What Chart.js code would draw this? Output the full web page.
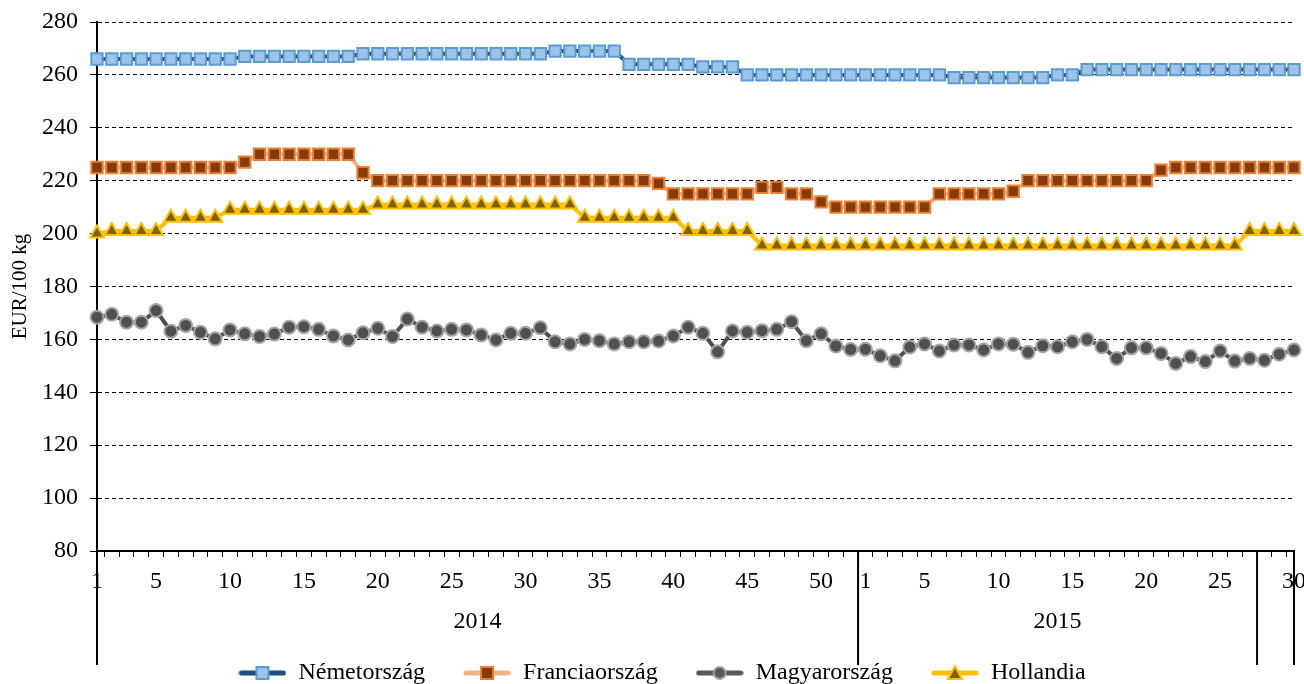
<!DOCTYPE html>
<html>
<head>
<meta charset="utf-8">
<script src="https://cdn.jsdelivr.net/npm/chart.js@4.4.0/dist/chart.umd.min.js"></script>
<style>
  html, body { margin: 0; padding: 0; background: #fff; }
  #wrap { width: 1304px; height: 684px; }
</style>
</head>
<body>
<div id="wrap"><canvas id="chart" width="1304" height="684"></canvas></div>
<script>
// weeks on the category axis
const weeks2014 = [1, 2, 3, 4, 5, 6, 7, 8, 9, 10, 11, 12, 13, 14, 15, 16, 17, 18, 19, 20,
  21, 22, 23, 24, 25, 26, 27, 28, 29, 30, 31, 32, 33, 34, 35, 36, 37, 38, 39, 40,
  41, 42, 43, 44, 45, 46, 47, 48, 49, 50, 51, 52];
const weeks2015 = [1, 2, 3, 4, 5, 6, 7, 8, 9, 10, 11, 12, 13, 14, 15, 16, 17, 18, 19, 20,
  21, 22, 23, 24, 25, 26, 27, 28, 29, 30];

// second level of the axis: group label and number of weeks in it
const yearLabels = ['2014', '2015', ''];
const yearSizes = [52, 27, 3];

const nemetorszag = [
  266, 266, 266, 266, 266, 266, 266, 266, 266, 266,
  267, 267, 267, 267, 267, 267, 267, 267,
  268, 268, 268, 268, 268, 268, 268, 268, 268, 268, 268, 268, 268,
  269, 269, 269, 269, 269,
  264, 264, 264, 264, 264,
  263, 263, 263,
  260, 260, 260, 260, 260, 260, 260, 260,
  260, 260, 260, 260, 260, 260,
  259, 259, 259, 259, 259, 259, 259,
  260, 260,
  262, 262, 262, 262, 262, 262, 262, 262, 262, 262, 262, 262, 262, 262, 262
];
const franciaorszag = [
  225, 225, 225, 225, 225, 225, 225, 225, 225, 225,
  227,
  230, 230, 230, 230, 230, 230, 230,
  223,
  220, 220, 220, 220, 220, 220, 220, 220, 220, 220, 220, 220, 220, 220, 220, 220, 220, 220, 220,
  219,
  215, 215, 215, 215, 215, 215,
  217.5, 217.5,
  215, 215,
  212,
  210, 210, 210, 210, 210, 210, 210,
  215, 215, 215, 215, 215,
  216,
  220, 220, 220, 220, 220, 220, 220, 220, 220,
  224,
  225, 225, 225, 225, 225, 225, 225, 225, 225
];
const magyarorszag = [
  168.4, 169.5, 166.5, 166.5, 170.9, 163.1, 165.3, 162.7, 160.2, 163.6,
  162.1, 161.1, 162.0, 164.6, 164.8, 163.8, 161.3, 159.8, 162.5, 164.2,
  161.1, 167.7, 164.6, 163.2, 163.8, 163.6, 161.7, 159.8, 162.3, 162.3,
  164.4, 159.1, 158.3, 160.0, 159.5, 158.3, 159.1, 159.1, 159.4, 161.3,
  164.6, 162.3, 155.3, 163.2, 162.7, 163.3, 163.8, 166.7, 159.5, 162.1,
  157.5, 156.2, 156.3, 153.8, 151.9, 157.1, 158.3, 155.6, 157.9, 157.9,
  156.0, 158.3, 158.2, 155.1, 157.6, 157.2, 159.1, 160.0, 157.2, 152.8,
  156.8, 156.8, 154.7, 150.9, 153.5, 151.6, 155.6, 151.8, 152.8, 152.1,
  154.4, 156.0
];
const hollandia = [
  200,
  201, 201, 201, 201,
  206, 206, 206, 206,
  209, 209, 209, 209, 209, 209, 209, 209, 209, 209,
  211, 211, 211, 211, 211, 211, 211, 211, 211, 211, 211, 211, 211, 211,
  206, 206, 206, 206, 206, 206, 206,
  201, 201, 201, 201, 201,
  195.5, 195.5, 195.5, 195.5, 195.5, 195.5, 195.5, 195.5, 195.5, 195.5, 195.5,
  195.5, 195.5, 195.5, 195.5, 195.5, 195.5, 195.5, 195.5, 195.5, 195.5, 195.5,
  195.5, 195.5, 195.5, 195.5, 195.5, 195.5, 195.5, 195.5, 195.5, 195.5, 195.5,
  201, 201, 201, 201
];

const FONT = '"Liberation Serif", "Times New Roman", serif';
Chart.defaults.font.family = FONT;
Chart.defaults.color = '#000';

// little line + marker pictures for the legend
function legendIcon(lineColor, fill, stroke, shape) {
  const c = document.createElement('canvas');
  c.width = 48; c.height = 18;
  const g = c.getContext('2d');
  g.strokeStyle = lineColor; g.lineWidth = 5; g.lineCap = 'round';
  g.beginPath(); g.moveTo(3, 9); g.lineTo(45, 9); g.stroke();
  g.fillStyle = fill; g.strokeStyle = stroke; g.lineWidth = 2;
  g.beginPath();
  if (shape === 'rect') g.rect(18, 3, 12, 12);
  else if (shape === 'circle') g.arc(24, 9, 6, 0, Math.PI * 2);
  else { g.moveTo(24, 2); g.lineTo(31, 15); g.lineTo(17, 15); g.closePath(); }
  g.fill(); g.stroke();
  return c;
}
const icons = [
  legendIcon('#1F4E79', '#9DC3E6', '#5B9BD5', 'rect'),
  legendIcon('#F4B183', '#843C0C', '#ED7D31', 'rect'),
  legendIcon('#595959', '#595959', '#A5A5A5', 'circle'),
  legendIcon('#FFC000', '#7F6000', '#FFC000', 'triangle')
];

// year row under the week numbers
const yearAxis = {
  id: 'yearAxis',
  afterLayout(chart) {
    // legend sits a bit right of the canvas centre in the original
    chart.legend.left += 12;
    chart.legend.right += 12;
  },
  afterDraw(chart) {
    const x = chart.scales.x, ctx = chart.ctx;
    const n = x.getLabels().length;
    const top = chart.chartArea.bottom;
    const edge = i => i <= 0 ? x.left : i >= n ? x.right
      : (x.getPixelForValue(i - 1) + x.getPixelForValue(i)) / 2;
    ctx.save();
    ctx.strokeStyle = '#000';
    ctx.lineWidth = 2;
    ctx.fillStyle = '#000';
    ctx.font = '24px ' + FONT;
    ctx.textAlign = 'center';
    ctx.textBaseline = 'middle';
    let start = 0;
    const line = px => { ctx.beginPath(); ctx.moveTo(px, top); ctx.lineTo(px, 665); ctx.stroke(); };
    line(edge(0));
    yearSizes.forEach((size, k) => {
      const end = start + size;
      line(edge(end));
      ctx.fillText(yearLabels[k], (edge(start) + edge(end)) / 2, 622);
      start = end;
    });
    ctx.restore();
  }
};

new Chart(document.getElementById('chart'), {
  type: 'line',
  data: {
    labels: weeks2014.concat(weeks2015),
    datasets: [{
      label: 'Németország',
      data: nemetorszag,
      borderColor: '#1F4E79',
      borderWidth: 4,
      pointStyle: 'rect',
      pointRadius: 8,
      pointBackgroundColor: '#9DC3E6',
      pointBorderColor: '#5B9BD5',
      pointBorderWidth: 2
    }, {
      label: 'Franciaország',
      data: franciaorszag,
      borderColor: '#F4B183',
      borderWidth: 4,
      pointStyle: 'rect',
      pointRadius: 8,
      pointBackgroundColor: '#843C0C',
      pointBorderColor: '#ED7D31',
      pointBorderWidth: 2
    }, {
      label: 'Magyarország',
      data: magyarorszag,
      borderColor: '#505050',
      borderWidth: 4,
      pointStyle: 'circle',
      pointRadius: 6.5,
      pointBackgroundColor: '#505050',
      pointBorderColor: '#A5A5A5',
      pointBorderWidth: 2
    }, {
      label: 'Hollandia',
      data: hollandia,
      borderColor: '#FFC000',
      borderWidth: 4,
      pointStyle: 'triangle',
      pointRadius: 8,
      pointBackgroundColor: '#7F6000',
      pointBorderColor: '#FFC000',
      pointBorderWidth: 2
    }]
  },
  options: {
    responsive: false,
    animation: false,
    layout: { padding: { left: 0, right: 4, top: 22, bottom: 0 } },
    plugins: {
      tooltip: { enabled: false },
      legend: {
        position: 'bottom',
        maxHeight: 61,
        labels: {
          usePointStyle: true,
          pointStyleWidth: 48,
          padding: 38,
          color: '#000',
          font: { family: FONT, size: 24 },
          generateLabels: chart => Chart.defaults.plugins.legend.labels.generateLabels(chart)
            .map((item, i) => Object.assign(item, { pointStyle: icons[i] }))
        }
      }
    },
    scales: {
      x: {
        grid: { offset: true, drawOnChartArea: false, color: '#000', tickLength: 6 },
        border: { color: '#000', width: 2 },
        ticks: {
          autoSkip: false,
          maxRotation: 0,
          padding: 10,
          color: '#000',
          font: { family: FONT, size: 24 },
          callback: function (value) {
            const w = this.getLabelForValue(value);
            return (w === 1 || w % 5 === 0) ? String(w) : '';
          }
        },
        afterFit: s => { s.height = 72; s.paddingRight = 0; }
      },
      y: {
        min: 80,
        max: 280,
        ticks: { stepSize: 20, padding: 12, color: '#000', font: { family: FONT, size: 24 } },
        grid: { color: '#000', lineWidth: 1, tickLength: 7, tickBorderDash: [] },
        border: { color: '#000', width: 2, dash: [4, 3] },
        title: { display: true, text: 'EUR/100 kg', color: '#000', font: { family: FONT, size: 21 }, padding: { top: 8, bottom: 0 } },
        afterFit: s => { s.width = 97; s.paddingTop = 0; s.paddingBottom = 0; }
      }
    }
  },
  plugins: [yearAxis]
});
</script>
</body>
</html>
